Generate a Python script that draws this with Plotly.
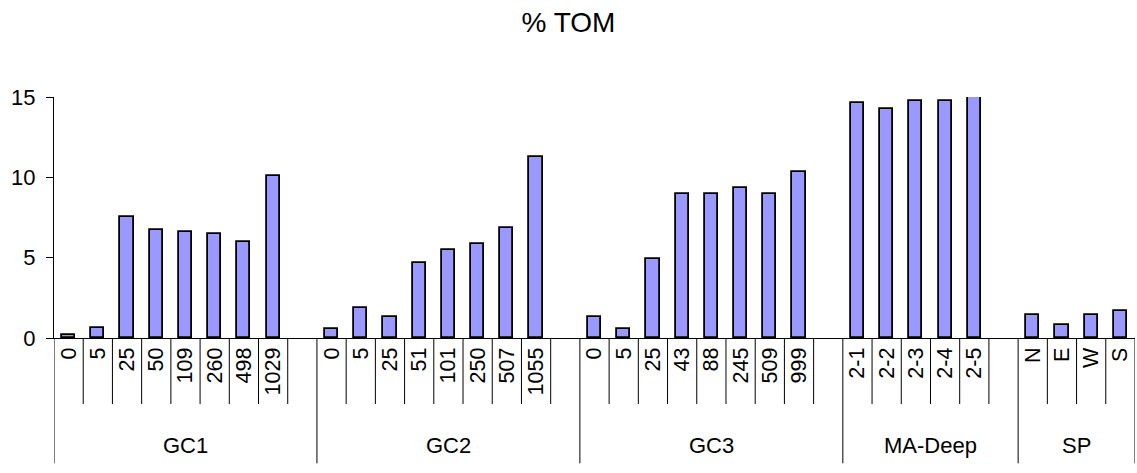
import plotly.graph_objects as go

# ---- data ----
groups = ["GC1", "GC2", "GC3", "MA-Deep", "SP"]
gc1_labels = ["0", "5", "25", "50", "109", "260", "498", "1029"]
gc1_values = [0.2, 0.6, 7.55, 6.7, 6.58, 6.47, 5.97, 10.08]
gc2_labels = ["0", "5", "25", "51", "101", "250", "507", "1055"]
gc2_values = [0.58, 1.89, 1.29, 4.67, 5.5, 5.87, 6.85, 11.26]
gc3_labels = ["0", "5", "25", "43", "88", "245", "509", "999"]
gc3_values = [1.29, 0.58, 4.9, 8.98, 8.98, 9.35, 8.98, 10.31]
ma_labels = ["2-1", "2-2", "2-3", "2-4", "2-5"]
ma_values = [14.64, 14.27, 14.77, 14.77, 15.02]
sp_labels = ["N", "E", "W", "S"]
sp_values = [1.41, 0.81, 1.41, 1.66]
y_ticks = [0, 5, 10, 15]

group_labels = [gc1_labels, gc2_labels, gc3_labels, ma_labels, sp_labels]
group_values = [gc1_values, gc2_values, gc3_values, ma_values, sp_values]

# ---- build slot positions (one blank slot after every group but the last) ----
xs, ys, ticktext = [], [], []
group_bounds = [0]
slot = 0
for gi, (labs, vals) in enumerate(zip(group_labels, group_values)):
    for lab, v in zip(labs, vals):
        xs.append(slot)
        ys.append(v)
        ticktext.append(lab)
        slot += 1
    if gi < len(group_labels) - 1:
        slot += 1  # blank slot
    group_bounds.append(slot)
n_slots = slot

FONT = "Arial, 'Liberation Sans', sans-serif"

fig = go.Figure(
    go.Bar(
        x=xs,
        y=ys,
        width=0.45,
        marker=dict(color="#9999FF", line=dict(color="black", width=1.8)),
        hoverinfo="y",
        cliponaxis=False,
    )
)

# plot-area geometry (paper units below the axis)
inner_bottom = -0.274
outer_bottom = -0.52
group_label_y = -0.444

shapes = []
for b in range(n_slots + 1):
    is_group = b in group_bounds
    shapes.append(
        dict(
            type="line", xref="x", yref="paper",
            x0=b - 0.5, x1=b - 0.5,
            y0=0, y1=outer_bottom if is_group else inner_bottom,
            line=dict(color="black", width=1),
        )
    )

annotations = []
for gi, g in enumerate(groups):
    start = group_bounds[gi]
    end = group_bounds[gi + 1]
    annotations.append(
        dict(
            x=(start + end - 1) / 2, y=group_label_y,
            xref="x", yref="paper",
            text=g, showarrow=False,
            font=dict(family=FONT, size=22, color="black"),
            xanchor="center", yanchor="middle",
        )
    )

fig.update_layout(
    width=1137, height=473,
    margin=dict(l=54, r=2, t=97, b=135),
    paper_bgcolor="white", plot_bgcolor="white",
    showlegend=False,
    title=dict(
        text="% TOM", x=0.5, xanchor="center", y=1 - 22 / 473, yanchor="middle",
        font=dict(family=FONT, size=28, color="black"),
    ),
    shapes=shapes,
    annotations=annotations,
    bargap=0,
)

fig.update_xaxes(
    range=[-0.5, n_slots - 0.5],
    tickmode="array", tickvals=xs, ticktext=ticktext,
    tickangle=-90,
    ticks="", showgrid=False, zeroline=False,
    showline=True, linecolor="black", linewidth=1,
    tickfont=dict(family=FONT, size=21.5, color="black"),
    fixedrange=True,
)
fig.update_yaxes(
    range=[0, 15],
    tickmode="array", tickvals=y_ticks,
    ticks="outside", ticklen=7, tickcolor="black", tickwidth=1,
    showgrid=False, zeroline=False,
    showline=True, linecolor="black", linewidth=1,
    tickfont=dict(family=FONT, size=22, color="black"),
    ticklabelstandoff=6,
    fixedrange=True,
)

fig.write_html(
    "out.html",
    config={"displayModeBar": False},
    post_script="document.body.style.margin='0px';document.body.style.overflow='hidden';",
)
